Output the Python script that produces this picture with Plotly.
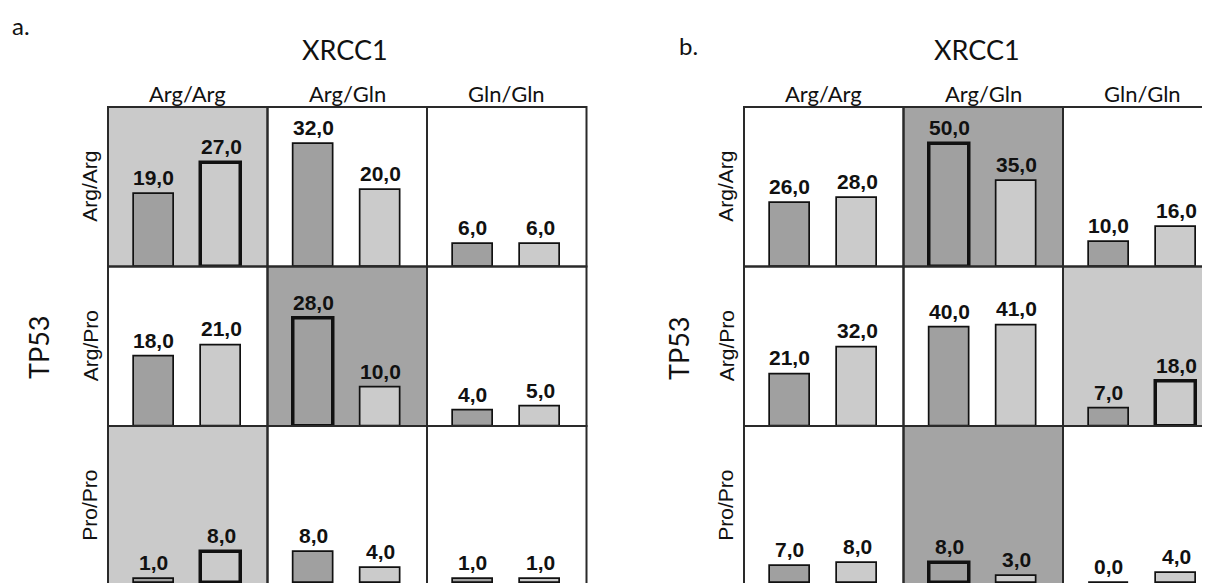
import plotly.graph_objects as go

# The page adds an 8 px body margin, so the figure is drawn 8 px in from the
# top-left corner of the 1210x583 window.
OFF = 8
SCREEN_W, SCREEN_H = 1210, 583
W, H = SCREEN_W - OFF, SCREEN_H - OFF

# ---- data -------------------------------------------------------------
xrcc1_genotypes = ["Arg/Arg", "Arg/Gln", "Gln/Gln"]      # columns
tp53_genotypes = ["Arg/Arg", "Arg/Pro", "Pro/Pro"]       # rows
bar_groups = ["grupo 1", "grupo 2"]                      # two bars per cell

a_group1 = [[19, 32, 6], [18, 28, 4], [1, 8, 1]]
a_group2 = [[27, 20, 6], [21, 10, 5], [8, 4, 1]]
b_group1 = [[26, 50, 10], [21, 40, 7], [7, 8, 0]]
b_group2 = [[28, 35, 16], [32, 41, 18], [8, 3, 4]]

# marked cells: (row, col, index of the marked bar)
a_marked = [(0, 0, 1), (1, 1, 0), (2, 0, 1)]
b_marked = [(0, 1, 0), (1, 2, 1), (2, 1, 0)]

# ---- style / geometry (screen pixels) ------------------------------------
DARK = "#a0a0a0"
LIGHT = "#cbcbcb"
BG = {0: "#a4a4a4", 1: "#cacaca"}
EDGE = "#111111"
GRID_LINE = "#2a2a2a"
TXT = "#111111"

CW, RH, TOP = 159.5, 159.5, 107
C1, SP, BW = 45.5, 67.5, 40   # first bar centre offset, bar spacing, bar width (px)

panels = [
    dict(tag="a.", tagpos=(21, 25), left=108, ymax=41.6,
         g1=a_group1, g2=a_group2, marked=a_marked,
         title_x=345, tp_x=38),
    dict(tag="b.", tagpos=(688, 45), left=744, ymax=65.0,
         g1=b_group1, g2=b_group2, marked=b_marked,
         title_x=977, tp_x=678),
]

fig = go.Figure()
shapes, annotations = [], []
layout_axes = {}


def px_x(v):
    return (v - OFF) / W


def px_y(v):
    return 1 - (v - OFF) / H


def fmt(v):
    return "<b>" + f"{v:.1f}".replace(".", ",") + "</b>"


def lab(text, x, y, size, family="Lato", angle=0):
    return dict(text=text, x=px_x(x), y=px_y(y), xref="paper", yref="paper",
                xanchor="center", yanchor="middle", showarrow=False, borderpad=0,
                textangle=angle, font=dict(family=family, size=size, color=TXT))


k = 0
for p in panels:
    s = RH / p["ymax"]
    marked = {(r, c): i for r, c, i in p["marked"]}
    for r in range(3):
        for c in range(3):
            k += 1
            x0 = p["left"] + c * CW
            x1 = x0 + CW
            y0 = TOP + r * RH
            y1 = y0 + RH
            vx1 = min(x1, SCREEN_W)
            vy1 = min(y1, SCREEN_H)
            xs = "x" if k == 1 else f"x{k}"
            ys = "y" if k == 1 else f"y{k}"
            layout_axes["xaxis" if k == 1 else f"xaxis{k}"] = dict(
                domain=[px_x(x0), px_x(vx1)],
                range=[-C1 / SP, (vx1 - x0 - C1) / SP],
                visible=False, fixedrange=True, anchor=ys, type="category",
            )
            layout_axes["yaxis" if k == 1 else f"yaxis{k}"] = dict(
                domain=[px_y(vy1), px_y(y0)],
                range=[0, (vy1 - y0) / s],
                visible=False, fixedrange=True, anchor=xs,
            )
            vals = [p["g1"][r][c], p["g2"][r][c]]
            mi = marked.get((r, c))
            widths = [3.5 if mi == i else 1.7 for i in range(2)]
            fig.add_trace(go.Bar(
                x=bar_groups, y=vals,
                width=BW / SP,
                marker=dict(color=[DARK, LIGHT],
                            line=dict(color=EDGE, width=widths)),
                cliponaxis=False,
                showlegend=False,
                hoverinfo="skip",
                xaxis=xs, yaxis=ys,
            ))
            for g, v in zip(bar_groups, vals):
                annotations.append(dict(
                    text=fmt(v), x=g, y=v, xref=xs, yref=ys,
                    xanchor="center", yanchor="bottom", yshift=3,
                    showarrow=False,
                    font=dict(family="Liberation Sans, Arial", size=21, color=TXT)))
            if mi is not None:
                shapes.append(dict(type="rect", xref="paper", yref="paper",
                                   x0=px_x(x0), x1=px_x(x1), y0=px_y(y1), y1=px_y(y0),
                                   fillcolor=BG[mi], line=dict(width=0), layer="below"))
            shapes.append(dict(type="rect", xref="paper", yref="paper",
                               x0=px_x(x0), x1=px_x(x1), y0=px_y(y1), y1=px_y(y0),
                               line=dict(color=GRID_LINE, width=2), layer="above"))

    # text labels
    annotations.append(lab(p["tag"], p["tagpos"][0], p["tagpos"][1], 24))
    annotations.append(lab("XRCC1", p["title_x"], 50, 27))
    for c, g in enumerate(xrcc1_genotypes):
        annotations.append(lab(g, p["left"] + (c + 0.5) * CW, 93, 22))
    for r, g in enumerate(tp53_genotypes):
        annotations.append(lab(g, p["left"] - 18, TOP + (r + 0.5) * RH, 21,
                               family="Liberation Sans, Arial", angle=-90))
    annotations.append(lab("TP53", p["tp_x"], 348, 27, angle=-90))

fig.update_layout(
    width=W, height=H,
    margin=dict(l=0, r=0, t=0, b=0),
    paper_bgcolor="white",
    plot_bgcolor="rgba(0,0,0,0)",
    bargap=0,
    shapes=shapes,
    annotations=annotations,
    **layout_axes,
)

fig.write_html("out.html")
